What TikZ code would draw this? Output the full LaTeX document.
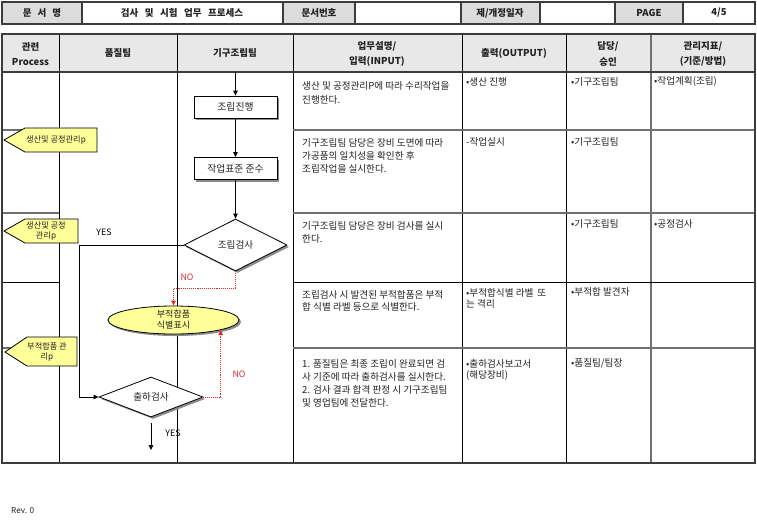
\documentclass[tikz,border=0pt]{standalone}
\usepackage{fontspec}
\setmainfont{Noto Sans CJK KR}
\usetikzlibrary{arrows.meta,shapes.geometric,shadows}
\definecolor{hdr}{HTML}{DCDCDC}
\definecolor{hdrb}{HTML}{E8E8E8}
\definecolor{brd}{HTML}{3C3C3C}
\definecolor{rowl}{HTML}{707070}
\definecolor{yel}{HTML}{FFFF99}
\definecolor{nored}{HTML}{E02A2A}
\definecolor{txt}{HTML}{222222}
\tikzset{
  hb/.style={font=\fontsize{9.5}{15.5}\selectfont\bfseries, text=txt, inner sep=0, align=center},
  cell/.style={font=\fontsize{9.6}{#1}\selectfont, text=txt, inner sep=0, anchor=north west, align=left},
  cell/.default=13,
  procbox/.style={draw=black, line width=0.8pt, fill=white, minimum width=83pt, minimum height=22pt, inner sep=0,
    font=\fontsize{9.8}{11}\selectfont, text=txt, drop shadow={shadow xshift=2pt,shadow yshift=-2pt,fill=black!45,opacity=1}},
  dia/.style={diamond, aspect=2.6, draw=black, line width=0.8pt, fill=white, inner sep=0,
    font=\fontsize{9.6}{11}\selectfont, text=txt, drop shadow={shadow xshift=2pt,shadow yshift=-2pt,fill=black!45,opacity=1}},
  ell/.style={ellipse, draw=black, line width=0.8pt, fill=yel, inner sep=0, minimum width=131pt, minimum height=28pt,
    drop shadow={shadow xshift=2pt,shadow yshift=-2pt,fill=black!45,opacity=1}},
  penta/.style={draw=black, line width=0.8pt, fill=yel},
  ptxt/.style={font=\fontsize{8.2}{10.5}\selectfont, text=txt, inner sep=0, align=center},
  arr/.style={-{Triangle[length=5pt,width=4.5pt]}, line width=0.8pt, black},
  noarr/.style={-{Triangle[length=5pt,width=4.5pt]}, line width=0.9pt, nored, densely dotted},
  lbl/.style={font=\fontsize{8.8}{10}\selectfont, inner sep=0},
}
\begin{document}
\begin{tikzpicture}[x=1pt,y=-1pt]
\useasboundingbox[fill=white] (0,0) rectangle (757,523);

% ---------- top header ----------
\fill[hdr] (2,2) rectangle (82,24);
\fill[hdr] (283,2) rectangle (355,24);
\fill[hdr] (461,2) rectangle (540,24);
\fill[hdr] (615,2) rectangle (683,24);
\foreach \x in {82,283,355,461,540,615,683} \draw[brd,line width=1.4pt] (\x,2) -- (\x,24);
\draw[brd,line width=1.8pt] (2,2) rectangle (755,24);
\node[hb] (t1) at (42,13) {문\hspace{6pt}서\hspace{6pt}명};
\node[hb] (t2) at (182,13) {검사\hspace{6.5pt}및\hspace{6.5pt}시험\hspace{6.5pt}업무\hspace{6.5pt}프로세스};
\node[hb] (t3) at (319,13) {문서번호};
\node[hb] (t4) at (500,13) {제/개정일자};
\node[hb] (t5) at (649,13) {PAGE};
\node[hb] (t6) at (719,13) {4/5};

% ---------- main table ----------
\fill[hdrb] (2,34) rectangle (755,72);
\foreach \x in {59,177,293,462,566} \draw[black,line width=0.8pt] (\x,34) -- (\x,463);
\draw[rowl,line width=2pt] (651,34) -- (651,463);
\foreach \y in {130,213,348} {
  \draw[rowl,line width=1.3pt] (2,\y) -- (59,\y);
  \draw[rowl,line width=1.3pt] (293,\y) -- (755,\y);
}
\draw[black,line width=0.9pt] (2,282) -- (59,282);
\draw[black,line width=0.9pt] (293,282) -- (755,282);
\draw[brd,line width=1.8pt] (2,72) -- (755,72);
\draw[brd,line width=1.8pt] (2,34) rectangle (755,463);

\node[hb] (c1) at (30.5,54) {관련\\Process};
\node[hb] (c2) at (118,53) {품질팀};
\node[hb] (c3) at (235,53) {기구조립팀};
\node[hb] (c4) at (377,54) {업무설명/\\입력(INPUT)};
\node[hb] (c5) at (514,53) {출력(OUTPUT)};
\node[hb] (c6) at (608,54) {담당/\\승인};
\node[hb] (c7) at (703,54) {관리지표/\\(기준/방법)};

% row texts
\node[cell=13.6] (r1a) at (302,81.5) {생산 및 공정관리P에 따라 수리작업을\\진행한다.};
\node[cell] (r1b) at (466,77.5) {•생산 진행};
\node[cell] (r1c) at (571,77.5) {•기구조립팀};
\node[cell] (r1d) at (654,76) {•작업계획(조립)};

\node[cell=13.4] (r2a) at (302,138) {기구조립팀 담당은 장비 도면에 따라\\가공품의 일치성을 확인한 후\\조립작업을 실시한다.};
\node[cell] (r2b) at (466,137.5) {-작업실시};
\node[cell] (r2c) at (571,137.5) {•기구조립팀};

\node[cell=12.7] (r3a) at (302,221.5) {기구조립팀 담당은 장비 검사를 실시\\한다.};
\node[cell] (r3c) at (571,219) {•기구조립팀};
\node[cell] (r3d) at (654,219) {•공정검사};

\node[cell=12.7] (r4a) at (302,290) {조립검사 시 발견된 부적합품은 부적\\합 식별 라벨 등으로 식별한다.};
\node[cell=11] (r4b) at (466,288) {•부적합식별 라벨\hspace{4pt}또\\는 격리};
\node[cell] (r4c) at (571,287.5) {•부적합 발견자};

\node[cell=12.8] (r5a) at (302,359.5) {1. 품질팀은 최종 조립이 완료되면 검\\사 기준에 따라\hspace{2pt}출하검사를 실시한다.\\2. 검사 결과 합격 판정 시 기구조립팀\\및 영업팀에 전달한다.};
\node[cell=10.5] (r5b) at (466,359.5) {•출하검사보고서\\(해당장비)};
\node[cell] (r5c) at (571,358.5) {•품질팀/팀장};

% ---------- process pentagons ----------
\draw[penta] (4,140) -- (25,128) -- (97,128) -- (97,152) -- (25,152) -- cycle;
\node[ptxt] (p1) at (56,140) {생산및 공정관리p};
\draw[penta] (4,231) -- (25,219) -- (78,219) -- (78,243) -- (25,243) -- cycle;
\node[ptxt] (p2) at (46,231) {생산및 공정\\관리p};
\draw[penta] (5,352) -- (27,337) -- (77,337) -- (77,366) -- (27,366) -- cycle;
\node[ptxt] (p3) at (47,352) {부적합품 관\\리p};

% ---------- flowchart ----------
\coordinate (start) at (235.5,72);
\node[procbox] (b1) at (235.5,107) {조립진행};
\node[procbox] (b2) at (235.5,168.5) {작업표준 준수};
\node[dia, minimum width=103pt, minimum height=52pt] (d1) at (235.5,245) {조립검사};
\node[ell] (e1) at (173.5,320) {};
\node[font=\fontsize{9}{11}\selectfont, text=txt, inner sep=0, align=center] (e1t) at (e1) {부적합품\\식별표시};
\node[dia, minimum width=104pt, minimum height=40pt] (d2) at (151,397) {출하검사};
\coordinate (endp) at (151,450);

\draw[arr] (start) -- (b1.north);
\draw[arr] (b1.south) -- (b2.north);
\draw[arr] (b2.south) -- (d1.north);
\draw[arr] (d1.west) -- ++(-104,0) coordinate (yc) |- (d2.west);
\draw[noarr] (d1.south) -- ++(0,17) -| (e1.north);
\draw[noarr] (d2.east) -| (e1.-12.5);
\draw[arr] ([yshift=-6pt]d2.south) -- (endp);

\node[lbl] (yes1) at (104,232) {YES};
\node[lbl, text=nored] (no1) at (187,277) {NO};
\node[lbl, text=nored] (no2) at (239,374) {NO};
\node[lbl] (yes2) at (173,433) {YES};

\node[font=\fontsize{8.2}{9}\selectfont, text=txt, inner sep=0, anchor=west] (rev) at (11,511) {Rev. 0};
\end{tikzpicture}
\end{document}
